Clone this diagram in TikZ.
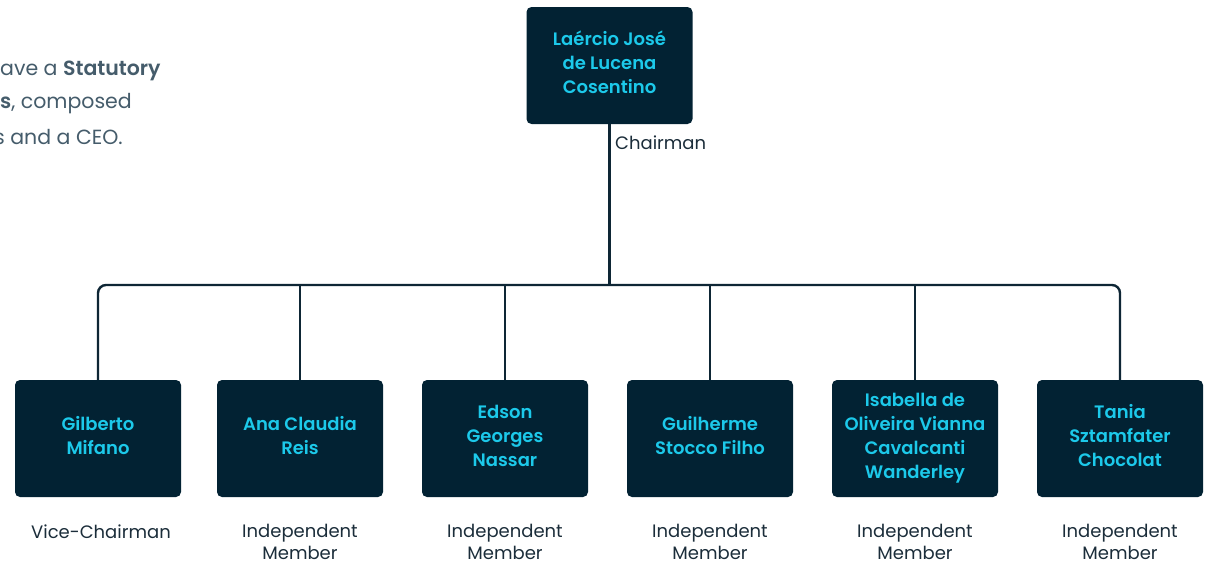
\documentclass[tikz,border=0pt]{standalone}
\usepackage{fontspec}
\setmainfont{Poppins}[BoldFont={Poppins SemiBold}]
\definecolor{boxfill}{HTML}{022233}
\definecolor{namecol}{HTML}{1CC9EA}
\definecolor{linecol}{HTML}{0E2635}
\definecolor{labcol}{HTML}{1B2D3A}
\definecolor{introcol}{HTML}{455C6B}
\begin{document}
\begin{tikzpicture}[x=1pt,y=-1pt,
  person/.style={fill=boxfill, rounded corners=5pt, minimum width=166pt, minimum height=117pt,
     text=namecol, font=\fontsize{18}{24}\selectfont\bfseries, align=center, inner sep=0pt,
     text depth=6pt},
  role/.style={text=labcol, font=\fontsize{18}{22}\selectfont, align=center, inner sep=0pt},
  intro/.style={text=introcol, font=\fontsize{20.5}{24}\selectfont, anchor=west, inner sep=0pt},
  conn/.style={draw=linecol, line width=2.4pt}]
\useasboundingbox (0,0) rectangle (1205,562);
\clip (0,0) rectangle (1205,562);
\fill[white] (0,0) rectangle (1205,562);

\node[intro] (i1) at (0,71) {ave a \textbf{Statutory}};
\node[intro] (i2) at (0,104) {\textbf{s}, composed};
\node[intro] (i3) at (-6,137) {s and a CEO.};

\node[person] (top) at (609.5,65.5) {Laércio José\\de Lucena\\Cosentino};
\node[role, anchor=west] (chair) at (615,143) {Chairman};

\node[person] (b1) at (98,438.5) {Gilberto\\Mifano};
\node[person] (b2) at (300,438.5) {Ana Claudia\\Reis};
\node[person] (b3) at (505,438.5) {Edson\\Georges\\Nassar};
\node[person] (b4) at (710,438.5) {Guilherme\\Stocco Filho};
\node[person] (b5) at (915,438.5) {Isabella de\\Oliveira Vianna\\Cavalcanti\\Wanderley};
\node[person] (b6) at (1120,438.5) {Tania\\Sztamfater\\Chocolat};

\node[role] (r1) at (101,532) {Vice-Chairman};
\node[role] (r2) at (300,542) {Independent\\Member};
\node[role] (r3) at (505,542) {Independent\\Member};
\node[role] (r4) at (710,542) {Independent\\Member};
\node[role] (r5) at (915,542) {Independent\\Member};
\node[role] (r6) at (1120,542) {Independent\\Member};

\coordinate (bar) at (609.5,285);
\draw[conn] (top.south) -- (bar);
\draw[conn, rounded corners=8pt] (b1.north) |- (bar) -| (b6.north);
\foreach \b in {b2,b3,b4,b5} {
  \draw[conn] (\b.north) -- (\b.north |- bar);
}
\end{tikzpicture}
\end{document}
